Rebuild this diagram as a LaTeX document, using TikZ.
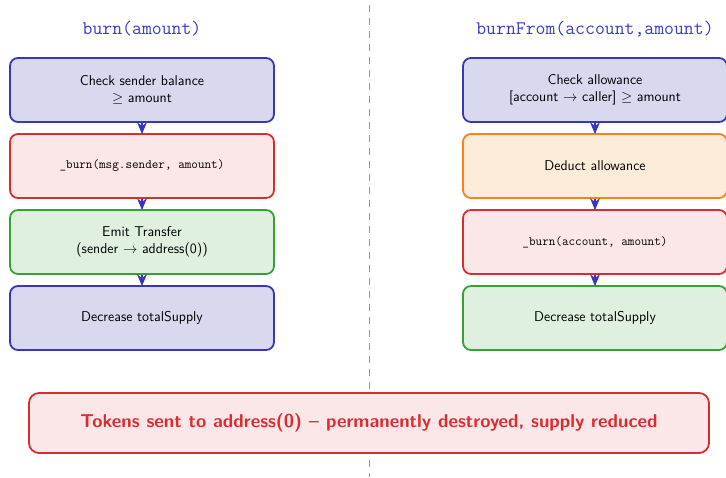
\documentclass[tikz,border=0pt]{standalone}
\usetikzlibrary{arrows.meta}
\definecolor{bluedraw}{RGB}{55,55,185}
\definecolor{bluefill}{RGB}{216,216,238}
\definecolor{reddraw}{RGB}{218,45,50}
\definecolor{redfill}{RGB}{251,231,232}
\definecolor{greendraw}{RGB}{55,160,55}
\definecolor{greenfill}{RGB}{223,241,222}
\definecolor{orangedraw}{RGB}{255,128,20}
\definecolor{orangefill}{RGB}{254,236,218}
\definecolor{titleblue}{RGB}{60,60,195}
\definecolor{sepgray}{RGB}{150,150,150}
\tikzset{
  stepbox/.style={draw, line width=1.8pt, rounded corners=8pt,
    minimum width=264pt, minimum height=64pt, align=center,
    font=\sffamily\fontsize{14.2}{16.5}\selectfont, text=black},
  bluebox/.style={stepbox, draw=bluedraw, fill=bluefill},
  redbox/.style={stepbox, draw=reddraw, fill=redfill},
  greenbox/.style={stepbox, draw=greendraw, fill=greenfill},
  orangebox/.style={stepbox, draw=orangedraw, fill=orangefill},
  codetext/.style={font=\ttfamily\fontsize{12.8}{15}\selectfont},
  flowtitle/.style={font=\ttfamily\fontsize{19.2}{22}\selectfont, text=titleblue},
  flowarrow/.style={-{Stealth[length=12pt,width=10pt,inset=4pt]}, bluedraw, line width=1.2pt, shorten >=-1pt},
}
\begin{document}
\begin{tikzpicture}[x=1pt,y=-1pt]
\useasboundingbox (0,0) rectangle (726,477);
\fill[white] (0,0) rectangle (726,477);

% separator between the two flows
\coordinate (sepTop) at (369,5);
\coordinate (sepBot) at (369,477);
\draw[sepgray, line width=1pt, dash pattern=on 7pt off 6pt] (sepTop) -- (sepBot);

% burn(amount)
\node[flowtitle] (tL) at (142,29) {burn(amount)};
\node[bluebox] (L1) at (142,90) {Check sender balance\\$\geq$ amount};
\node[redbox, codetext] (L2) at (142,166) {\_burn(msg.sender, amount)};
\node[greenbox] (L3) at (142,242) {Emit Transfer\\(sender $\rightarrow$ address(0))};
\node[bluebox] (L4) at (142,318) {Decrease totalSupply};

% burnFrom(account,amount)
\node[flowtitle] (tR) at (595,29) {burnFrom(account,amount)};
\node[bluebox] (R1) at (595,90) {Check allowance\\{}[account $\rightarrow$ caller] $\geq$ amount};
\node[orangebox] (R2) at (595,166) {Deduct allowance};
\node[redbox, codetext] (R3) at (595,242) {\_burn(account, amount)};
\node[greenbox] (R4) at (595,318) {Decrease totalSupply};

\draw[flowarrow] (L1.south) -- (L2.north);
\draw[flowarrow] (L2.south) -- (L3.north);
\draw[flowarrow] (L3.south) -- (L4.north);
\draw[flowarrow] (R1.south) -- (R2.north);
\draw[flowarrow] (R2.south) -- (R3.north);
\draw[flowarrow] (R3.south) -- (R4.north);

% summary
\node[redbox, minimum width=680pt, minimum height=60pt, rounded corners=10pt,
  font=\sffamily\bfseries\fontsize{18.6}{22}\selectfont, text=reddraw] (sum) at (369,423)
  {Tokens sent to address(0) -- permanently destroyed, supply reduced};
\end{tikzpicture}
\end{document}
